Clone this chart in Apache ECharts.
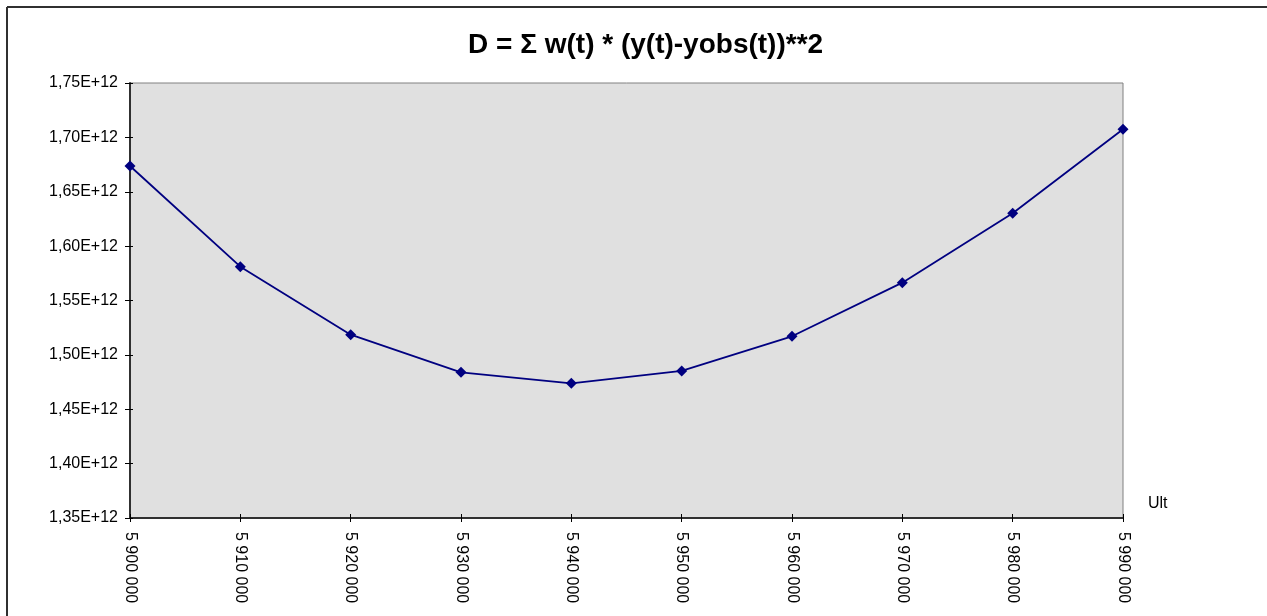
<!DOCTYPE html>
<html>
<head>
<meta charset="utf-8">
<script src="https://cdn.jsdelivr.net/npm/echarts@6/dist/echarts.min.js"></script>
<style>
html,body{margin:0;padding:0;background:#fff;}
#chart{width:1267px;height:616px;}
</style>
</head>
<body>
<div id="chart"></div>
<script>
const titleText = 'D = \u03A3 w(t) * (y(t)-yobs(t))**2';
const xAxisName = 'Ult';
const categories = ['5 900 000','5 910 000','5 920 000','5 930 000','5 940 000','5 950 000','5 960 000','5 970 000','5 980 000','5 990 000'];
const dValues = [1.6737e12, 1.5811e12, 1.5186e12, 1.4840e12, 1.4738e12, 1.4852e12, 1.5171e12, 1.5664e12, 1.6302e12, 1.7074e12];
const yMin = 1.35e12, yMax = 1.75e12, yStep = 0.05e12;

const FONT = '"Liberation Sans", Arial, sans-serif';
const fmtY = v => (v / 1e12).toFixed(2).replace('.', ',') + 'E+12';

const chart = echarts.init(document.getElementById('chart'), null, {renderer: 'canvas'});
chart.setOption({
  animation: false,
  backgroundColor: '#ffffff',
  textStyle: {fontFamily: FONT},
  title: {
    text: titleText,
    left: 463, top: 26,
    textStyle: {fontFamily: FONT, fontSize: 28, fontWeight: 'bold', color: '#000'}
  },
  graphic: [
    {type: 'line', shape: {x1: 7, y1: 7, x2: 1300, y2: 7}, style: {stroke: '#303030', lineWidth: 2}, z: 100},
    {type: 'line', shape: {x1: 7, y1: 7, x2: 7, y2: 700}, style: {stroke: '#303030', lineWidth: 2}, z: 100}
  ],
  grid: {
    left: 130, top: 83, right: 144, bottom: 98,
    show: true, backgroundColor: '#E0E0E0', borderColor: '#808080', borderWidth: 1
  },
  xAxis: [{
    type: 'category',
    data: categories,
    boundaryGap: false,
    name: xAxisName,
    nameLocation: 'end',
    nameGap: 25,
    nameTextStyle: {fontFamily: FONT, fontSize: 16, color: '#000', verticalAlign: 'bottom', padding: [0, 0, 6, 0]},
    axisLine: {show: true, lineStyle: {color: '#303030', width: 2}},
    axisTick: {show: true, inside: false, length: 4, alignWithLabel: true, lineStyle: {color: '#000', width: 1}},
    axisLabel: {fontFamily: FONT, fontSize: 16, color: '#000', rotate: -90, margin: 14, interval: 0},
    splitLine: {show: false}
  }, {
    type: 'category',
    data: categories,
    boundaryGap: false,
    position: 'bottom',
    axisLine: {show: false},
    axisTick: {show: true, inside: true, length: 4, lineStyle: {color: '#000', width: 1}},
    axisLabel: {show: false},
    splitLine: {show: false}
  }],
  yAxis: [{
    type: 'value',
    min: yMin, max: yMax, interval: yStep,
    position: 'left',
    axisLine: {show: true, lineStyle: {color: '#303030', width: 2}},
    axisTick: {show: true, inside: false, length: 5, lineStyle: {color: '#000', width: 1}},
    axisLabel: {fontFamily: FONT, fontSize: 16, color: '#000', margin: 12, formatter: fmtY},
    splitLine: {show: false}
  }, {
    type: 'value',
    min: yMin, max: yMax, interval: yStep,
    position: 'left',
    axisLine: {show: false},
    axisTick: {show: true, inside: true, length: 3, lineStyle: {color: '#000', width: 1}},
    axisLabel: {show: false},
    splitLine: {show: false}
  }],
  series: [{
    type: 'line',
    data: dValues,
    xAxisIndex: 0, yAxisIndex: 0,
    symbol: 'diamond',
    symbolSize: 11,
    showAllSymbol: true,
    lineStyle: {color: '#000080', width: 1.8},
    itemStyle: {color: '#000080', borderWidth: 0},
    clip: false,
    z: 10
  }]
});
</script>
</body>
</html>
